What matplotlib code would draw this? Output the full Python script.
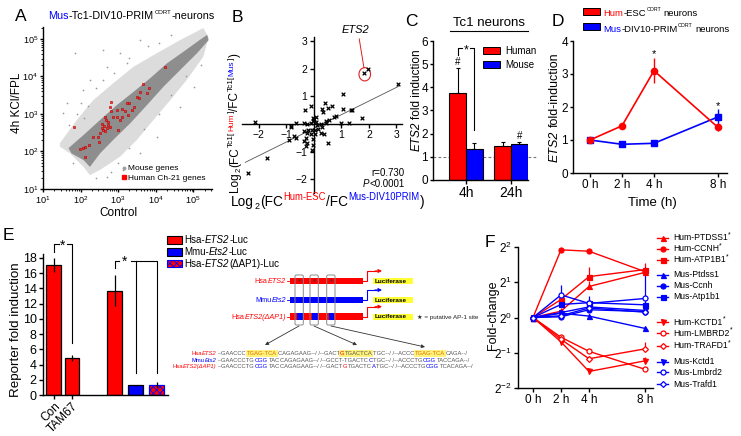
import numpy as np
import matplotlib
matplotlib.use("Agg")
import matplotlib.pyplot as plt
from matplotlib.patches import Rectangle, Ellipse, FancyBboxPatch

plt.rcParams["font.family"] = ["Liberation Sans", "DejaVu Sans"]
plt.rcParams["mathtext.fontset"] = "custom"
plt.rcParams["mathtext.rm"] = "Liberation Sans"
plt.rcParams["mathtext.it"] = "Liberation Sans:italic"
plt.rcParams["axes.linewidth"] = 1.0
plt.rcParams["hatch.linewidth"] = 0.6

RED = "#ff0000"
BLUE = "#0000ff"

# ---------- A: log10 values ----------
a_core_x = [1.68, 2.08, 2.52, 2.97, 3.41, 3.85, 4.30, 4.74, 5.14, 5.37,
            5.41, 5.10, 4.65, 4.21, 3.77, 3.32, 2.87, 2.52, 2.25, 2.08, 1.76]
a_core_y = [2.09, 2.44, 2.84, 3.24, 3.59, 3.95, 4.35, 4.66, 4.95, 5.11,
            4.97, 4.62, 4.17, 3.73, 3.24, 2.75, 2.31, 1.95, 1.59, 1.77, 1.95]
a_halo_x = [1.45, 1.90, 2.34, 2.87, 3.41, 4.03, 4.65, 5.27,
            5.41, 5.27, 4.83, 4.39, 3.94, 3.50, 3.05, 2.52, 2.25, 2.08, 1.72, 1.45]
a_halo_y = [2.22, 2.84, 3.37, 3.82, 4.26, 4.62, 4.97, 5.29,
            5.04, 4.53, 3.91, 3.37, 2.84, 2.31, 1.86, 1.51, 1.37, 1.59, 1.95, 2.13]
a_out_x = [1.85, 2.61, 3.05, 2.25, 1.63, 1.54, 2.07, 2.70, 3.59, 3.23, 3.59, 3.14,
           2.70, 4.03, 4.65, 5.01, 1.81, 2.0, 2.4, 1.9, 2.2, 2.6, 2.9, 3.3, 3.8,
           4.1, 4.4, 1.7, 2.1, 3.3, 3.7, 4.1, 4.4, 3.0, 2.8, 2.4, 4.8, 5.2]
a_out_y = [4.62, 4.71, 4.62, 3.91, 3.29, 3.02, 3.64, 4.26, 4.97, 4.35, 1.95, 1.51,
           1.33, 2.39, 3.19, 3.73, 1.68, 3.3, 3.7, 3.0, 3.2, 3.9, 4.1, 4.5, 4.8,
           4.9, 5.1, 2.7, 2.9, 2.1, 2.6, 3.0, 3.5, 1.7, 1.45, 1.3, 4.0, 4.3]
a_red_x = [4.24, 3.67, 3.83, 3.59, 3.50, 3.23, 3.30, 2.81, 2.79, 3.10, 2.97, 3.19,
           3.37, 2.98, 2.86, 3.10, 2.68, 2.56, 2.74, 2.79, 2.70, 2.59, 3.01, 2.52,
           2.47, 2.34, 2.50, 2.23, 2.12, 1.99, 2.06, 1.83, 2.12, 2.81, 2.65, 3.05,
           3.25, 3.43, 3.56, 3.77, 2.62, 2.72, 2.66, 2.58]
a_red_y = [4.24, 3.80, 3.69, 3.59, 3.45, 3.30, 3.30, 3.33, 3.18, 3.13, 3.11, 3.09,
           3.11, 2.93, 2.93, 2.93, 2.84, 2.73, 2.71, 2.65, 2.62, 2.57, 2.57, 2.48,
           2.39, 2.39, 2.26, 2.17, 2.11, 2.06, 2.08, 2.65, 1.85, 3.07, 2.93, 2.84,
           2.97, 3.18, 3.42, 3.55, 2.68, 2.78, 2.55, 2.62]

# ---------- B ----------
b_x = [1.82, 1.98, 3.05, 1.06, 1.06, 1.34, 1.40, 0.40, 0.67, 0.51, -0.33, -0.11,
       0.29, 0.32, 0.80, 0.74, 0.56, 0.46, 0.02, -0.04, 0.08, 0.43, 0.98, 1.29,
       1.75, -2.13, -0.65, -0.83, -0.36, -0.23, -0.11, 0.25, 0.31, 0.16, -0.07,
       0.05, -0.36, -0.23, -0.11, 0.05, 0.25, 0.37, -0.71, -0.65, -0.89, -0.29,
       -0.36, -0.23, -0.29, -0.04, -0.02, -0.07, 0.53, -1.71, -2.40, -0.83, 0.08,
       -0.04, -0.20, 0.12]
b_y = [1.85, 1.99, 1.45, 1.09, 0.54, 0.52, 0.49, 0.76, 0.66, 0.58, 0.52, 0.64,
       0.55, 0.43, 0.28, 0.25, 0.15, 0.12, 0.17, 0.12, 0.08, 0.05, 0.05, 0.03,
       0.22, 0.08, 0.02, -0.10, 0.02, 0.00, 0.02, 0.00, -0.10, -0.18, -0.21,
       -0.21, -0.26, -0.32, -0.38, -0.35, -0.32, -0.38, -0.42, -0.50, -0.59, -0.50,
       -0.62, -0.68, -0.78, -0.56, -0.75, -0.96, -0.68, -1.23, -1.78, -0.06, 0.25,
       0.21, -0.21, -0.05]
b_fit_x = [-2.48, 3.07]
b_fit_y = [-1.39, 1.36]
ets2_x, ets2_y = 1.85, 1.80

# ---------- C ----------
c_groups = ["4h", "24h"]
c_human = [3.75, 1.45]
c_human_err = [1.1, 0.2]
c_mouse = [1.35, 1.55]
c_mouse_err = [0.25, 0.07]

# ---------- D ----------
d_hours = [0, 2, 4, 8]
d_hum = [1.0, 1.43, 3.10, 1.38]
d_hum_err = [0.03, 0.10, 0.38, 0.12]
d_mus = [1.0, 0.87, 0.90, 1.70]
d_mus_err = [0.03, 0.06, 0.04, 0.23]

# ---------- E ----------
e_pos = [0, 0.86, 2.9, 3.9, 4.9]
e_vals = [17.1, 4.8, 13.7, 1.25, 1.35]
e_err = [0.9, 0.4, 2.0, 0.12, 0.3]
e_ticklabels = ["Con", "TAM67"]

# ---------- F (log2 fold-change) ----------
f_hours = [0, 2, 4, 8]
f_names = ["Hum-PTDSS1", "Hum-CCNH", "Hum-ATP1B1", "Mus-Ptdss1", "Mus-Ccnh", "Mus-Atp1b1",
           "Hum-KCTD1", "Hum-LMBRD2", "Hum-TRAFD1", "Mus-Kctd1", "Mus-Lmbrd2", "Mus-Trafd1"]
f_vals = [[0, 0.18, 0.88, 1.28], [0, 1.92, 1.88, 1.30], [0, 0.51, 1.16, 1.36],
          [0, 0.12, 0.04, -0.31], [0, 0.02, 0.22, 0.17], [0, 0.37, 0.42, 0.36],
          [0, -0.69, -1.53, -1.23], [0, -0.56, -0.96, -1.47], [0, -0.62, -1.17, -0.89],
          [0, 0.14, 0.30, 0.20], [0, 0.64, 0.40, 0.54], [0, 0.05, 0.27, 0.15]]
f_err = [[0, 0.08, 0.15, 0.12], [0, 0.04, 0.04, 0.08], [0, 0.1, 0.28, 0.2],
         [0, 0.05, 0.05, 0.05], [0, 0.05, 0.4, 1.25], [0, 0.05, 0.1, 0.08],
         [0, 0.05, 0.05, 0.1], [0, 0.05, 0.08, 0.05], [0, 0.05, 0.08, 0.2],
         [0, 0.05, 0.05, 0.05], [0, 0.27, 0.1, 0.1], [0, 0.05, 0.05, 0.05]]
f_markers = ["^", "o", "s", "^", "o", "s", "v", "o", "D", "v", "o", "D"]
f_open = [False] * 7 + [True, True, False, True, True]
f_star = [True, True, True, False, False, False, True, True, True, False, False, False]

W, H = 741, 436
fig = plt.figure(figsize=(W / 100, H / 100), dpi=100)
R = fig.canvas.get_renderer()

def box(x0, y0, x1, y1):
    return [x0 / W, 1 - y1 / H, (x1 - x0) / W, (y1 - y0) / H]

# overlay in pixel coordinates (y down) for labels and the diagram
ov = fig.add_axes([0, 0, 1, 1], zorder=10)
ov.set_xlim(0, W)
ov.set_ylim(H, 0)
ov.axis("off")

def rich(x, y, parts, size, rot=0, align="left"):
    made, total = [], 0.0
    for part in parts:
        if isinstance(part, str):
            part = (part, {})
        s, o = part
        total += o.get("pre", 0)
        t = ov.text(0, 0, s, fontsize=size * o.get("scale", 1), color=o.get("color", "black"),
                    style=o.get("style", "normal"), weight=o.get("weight", "normal"),
                    rotation=rot, rotation_mode="anchor", ha="left", va="baseline")
        if "hl" in o:
            t.set_bbox(dict(facecolor=o["hl"], edgecolor="none", pad=0.4))
        ext = t.get_window_extent(R)
        made.append((t, total, o.get("rise", 0) * size * 100 / 72))
        total += (ext.height if rot else ext.width) + 0.4
    start = {"left": 0, "center": -total / 2, "right": -total}[align]
    for t, off, rise in made:
        if rot:
            t.set_position((x - rise, y - start - off))
        else:
            t.set_position((x + start + off, y - rise))

IT = {"style": "italic"}

def style_axes(ax, size):
    ax.spines["top"].set_visible(False)
    ax.spines["right"].set_visible(False)
    ax.tick_params(direction="out", labelsize=size, width=1.0, length=3, pad=1.5)

# ================= A =================
axA = fig.add_axes(box(43, 27, 212, 189))
axA.fill(10 ** np.array(a_halo_x), 10 ** np.array(a_halo_y), color="#dcdcdc", lw=0)
axA.fill(10 ** np.array(a_core_x), 10 ** np.array(a_core_y), color="#8e8e8e", lw=0)
axA.scatter(10 ** np.array(a_out_x), 10 ** np.array(a_out_y), s=1.5, color="#9a9a9a", lw=0)
axA.scatter(10 ** np.array(a_red_x), 10 ** np.array(a_red_y), s=4.5, marker="s",
            facecolor="#ff2a2a", edgecolor="#b00000", lw=0.4, zorder=3)
axA.set_xscale("log")
axA.set_yscale("log")
axA.set_xlim(10, 10 ** 5.5)
axA.set_ylim(10, 10 ** 5.32)
style_axes(axA, 6.6)
axA.tick_params(which="major", length=2.5, pad=1)
axA.tick_params(which="minor", direction="out", length=1.5, width=0.6)
rich(48, 19, [("Mus", {"color": BLUE}), "-Tc1-DIV10-PRIM", ("CORT", {"scale": 0.55, "rise": 0.5}), "-neurons"], 7.8)
ov.text(20, 103, "4h KCl/FPL", rotation=90, rotation_mode="anchor", ha="center", va="baseline", fontsize=8.5)
ov.text(118, 216, "Control", ha="center", va="baseline", fontsize=8.5)
ov.plot([124], [168], "o", ms=1.8, color="#a0a0a0")
ov.plot([124], [177], "s", ms=2.2, color=RED)
ov.text(128, 170, "Mouse genes", fontsize=6, va="baseline")
ov.text(128, 180, "Human Ch-21 genes", fontsize=6, va="baseline")

# ================= B =================
axB = fig.add_axes(box(242, 37, 402, 193))
axB.plot(b_fit_x, b_fit_y, color="#555555", lw=0.6, zorder=1)
axB.scatter(b_x, b_y, marker="x", s=7, color="black", lw=0.9, zorder=3)
axB.add_patch(Ellipse((ets2_x, ets2_y), 0.42, 0.48, fill=False, ec="#e02020", lw=0.8))
axB.plot([ets2_x - 0.03, ets2_x - 0.2], [ets2_y + 0.24, ets2_y + 1.28], color="#e02020", lw=0.7, clip_on=False)
axB.text(ets2_x - 0.33, ets2_y + 1.5, "ETS2", style="italic", fontsize=8, ha="center", va="baseline", clip_on=False)
axB.set_xlim(-2.6, 3.2)
axB.set_ylim(-2.5, 3.15)
axB.spines["left"].set_position(("data", 0))
axB.spines["bottom"].set_position(("data", 0))
style_axes(axB, 7.5)
axB.set_xticks([-2, -1, 1, 2, 3])
axB.set_yticks([-2, -1, 1, 2, 3])
ov.text(405, 176, "r=0.730", ha="right", va="baseline", fontsize=7)
rich(405, 187, [("P", IT), "<0.0001"], 7, align="right")
rich(328, 206, ["Log", ("2", {"scale": 0.65, "rise": -0.22}), "(FC",
                ("Hum-ESC", {"scale": 0.7, "rise": 0.42, "color": RED}), "/FC",
                ("Mus-DIV10PRIM", {"scale": 0.7, "rise": 0.42, "color": BLUE}), ")"], 9.8, align="center")
rich(238, 122, ["Log", ("2", {"scale": 0.65, "rise": -0.22}), "(FC", ("Tc1[", {"scale": 0.7, "rise": 0.42}),
                ("Hum", {"scale": 0.7, "rise": 0.42, "color": RED}), ("]", {"scale": 0.7, "rise": 0.42}), "/FC",
                ("Tc1[", {"scale": 0.7, "rise": 0.42}), ("Mus", {"scale": 0.7, "rise": 0.42, "color": BLUE}),
                ("]", {"scale": 0.7, "rise": 0.42}), ")"], 8.5, rot=90, align="center")

# ================= C =================
axC = fig.add_axes(box(433, 41, 528, 180))
xs = np.arange(len(c_groups))
bw = 0.367
axC.bar(xs - bw / 2, c_human, bw, color=RED, edgecolor="black", lw=0.8,
        yerr=[[0] * 2, c_human_err], capsize=1.5, error_kw=dict(lw=0.8, capthick=0.8))
axC.bar(xs + bw / 2, c_mouse, bw, color=BLUE, edgecolor="black", lw=0.8,
        yerr=[[0] * 2, c_mouse_err], capsize=1.5, error_kw=dict(lw=0.8, capthick=0.8))
axC.plot([-0.733, 1.6], [1, 1], ls=(0, (2.5, 2)), color="#777777", lw=0.8, clip_on=False, zorder=0.5)
axC.set_xlim(-0.733, 1.378)
axC.set_ylim(0, 6)
style_axes(axC, 8.5)
axC.tick_params(axis="y", length=2.5, pad=1)
axC.set_xticks(xs)
axC.set_xticklabels(c_groups, fontsize=10)
axC.set_yticks(range(7))
lx, rx = -bw / 2, bw / 2
axC.plot([lx, lx, lx + 0.1], [5.4, 5.7, 5.7], color="black", lw=0.8)
axC.plot([rx - 0.1, rx, rx], [5.7, 5.7, 2.15], color="black", lw=0.8)
axC.text(0, 5.45, "*", ha="center", va="baseline", fontsize=9)
axC.text(-bw / 2, 4.95, "#", ha="center", va="baseline", fontsize=7)
axC.text(1 + bw / 2, 1.75, "#", ha="center", va="baseline", fontsize=7)
ov.text(489, 26, "Tc1 neurons", ha="center", va="baseline", fontsize=9.5)
ov.plot([450, 528], [31, 31], color="black", lw=0.8)
rich(420, 100, [("ETS2", IT), ("fold induction", {"pre": 2.5})], 8.5, rot=90, align="center")
ov.add_patch(Rectangle((483, 47), 17, 7, fc=RED, ec="black", lw=0.7))
ov.add_patch(Rectangle((483, 61), 17, 7, fc=BLUE, ec="black", lw=0.7))
ov.text(505, 54, "Human", fontsize=7, va="baseline")
ov.text(505, 68, "Mouse", fontsize=7, va="baseline")

# ================= D =================
axD = fig.add_axes(box(573, 41, 727, 173))
axD.errorbar(d_hours, d_mus, yerr=d_mus_err, color=BLUE, marker="s", ms=4.5, lw=1.2, elinewidth=1, capsize=0)
axD.errorbar(d_hours, d_hum, yerr=d_hum_err, color=RED, marker="o", ms=4.5, lw=1.2, elinewidth=1, capsize=0)
axD.text(4, 3.5, "*", ha="center", va="baseline", fontsize=8)
axD.text(8, 1.95, "*", ha="center", va="baseline", fontsize=8)
axD.set_xlim(-1.06, 8.56)
axD.set_ylim(0, 4)
style_axes(axD, 8.5)
axD.tick_params(axis="y", length=2.5, pad=1)
axD.set_xticks(d_hours)
axD.set_xticklabels([f"{h} h" for h in d_hours])
axD.set_yticks(range(5))
ov.add_patch(Rectangle((583, 8), 17, 7, fc=RED, ec="black", lw=0.7))
ov.add_patch(Rectangle((583, 23), 17, 7, fc=BLUE, ec="black", lw=0.7))
rich(603, 16, [("Hum", {"color": RED}), "-ESC", ("CORT", {"scale": 0.55, "rise": 0.5}), ("neurons", {"pre": 2})], 6.8)
rich(603, 32, [("Mus", {"color": BLUE}), "-DIV10-PRIM", ("CORT", {"scale": 0.55, "rise": 0.5}), ("neurons", {"pre": 2})], 6.8)
rich(558, 107, [("ETS2", IT), ("fold-induction", {"pre": 2.5})], 9.0, rot=90, align="center")
ov.text(652, 206, "Time (h)", ha="center", va="baseline", fontsize=9.5)

# ================= E =================
axE = fig.add_axes(box(43, 254, 168, 395))
e_face = [RED, RED, RED, BLUE, RED]
e_edge = ["black", "black", "black", "black", BLUE]
e_hatch = [None, None, None, None, "xxxxx"]
for p, v, er, fc, ec, ht in zip(e_pos, e_vals, e_err, e_face, e_edge, e_hatch):
    axE.bar(p, v, 0.71, color=fc, edgecolor=ec, lw=0.9, hatch=ht,
            yerr=[[er], [er]], capsize=0, error_kw=dict(lw=0.9, ecolor="black"))
axE.set_xlim(-0.52, 5.43)
axE.set_ylim(0, 18.5)
style_axes(axE, 9)
axE.set_yticks(range(0, 19, 2))
axE.set_xticks(e_pos[:2])
axE.set_xticklabels(e_ticklabels, rotation=45, ha="right", rotation_mode="anchor", fontsize=8.5)
axE.tick_params(axis="x", pad=1)
p0, p1, p2, p3, p4 = e_pos
axE.plot([p0, p0, p0 + 0.25], [18.8, 19.8, 19.8], color="black", lw=0.8, clip_on=False)
axE.plot([p1 - 0.25, p1, p1], [19.8, 19.8, 6.8], color="black", lw=0.8, clip_on=False)
axE.text((p0 + p1) / 2, 19.1, "*", ha="center", va="baseline", fontsize=10, clip_on=False)
axE.plot([p2, p2, p2 + 0.2], [16.6, 17.6, 17.6], color="black", lw=0.8)
axE.plot([p2 + 0.75, p4, p4], [17.6, 17.6, 2.9], color="black", lw=0.8)
axE.plot([p3, p3], [17.6, 2.9], color="black", lw=0.8)
axE.text(p2 + 0.45, 16.9, "*", ha="center", va="baseline", fontsize=10)
ov.text(19, 330, "Reporter fold induction", rotation=90, rotation_mode="anchor", ha="center", va="baseline", fontsize=9.6)
ov.add_patch(Rectangle((167, 236), 15, 7.5, fc=RED, ec="black", lw=0.8))
ov.add_patch(Rectangle((167, 248), 15, 7.5, fc=BLUE, ec="black", lw=0.8))
ov.add_patch(Rectangle((167, 259.5), 15, 7.5, fc=RED, ec=BLUE, lw=0.8, hatch="xxxxx"))
rich(184, 243, ["Hsa-", ("ETS2", IT), "-Luc"], 7)
rich(184, 255, ["Mmu-", ("Ets2", IT), "-Luc"], 7)
rich(184, 266.5, ["Hsa-", ("ETS2", IT), "(ΔAP1)-Luc"], 7)

# promoter constructs
rows = [281, 300, 316.7]
bar_cols = [RED, BLUE, RED]
names = [[("Hsa", {"color": RED}), ("ETS2", {"color": RED, "style": "italic"})],
         [("Mmu", {"color": BLUE}), ("Ets2", {"color": BLUE, "style": "italic"})],
         [("Hsa", {"color": RED}), ("ETS2(ΔAP1)", {"color": RED, "style": "italic"})]]
sites = [295, 310, 326.7]
for i, (yy, col) in enumerate(zip(rows, bar_cols)):
    ov.add_patch(Rectangle((290, yy - 3.3), 72.7, 6.6, fc=col, ec="none"))
    ov.plot([287, 290], [yy, yy], color=col, lw=0.6)
    rich(286.5, yy + 1.8, names[i], 5.2, align="right")
    ov.plot([362.7, 367, 367, 376], [yy, yy, yy - 10, yy - 10], color=col, lw=0.8)
    ov.annotate("", xy=(382, yy - 10), xytext=(375, yy - 10),
                arrowprops=dict(arrowstyle="-|>", color=col, lw=0.8, mutation_scale=5, shrinkA=0, shrinkB=0))
    ov.add_patch(Rectangle((372.7, yy - 3.2), 40.6, 6.4, fc="#ffff33", ec="none"))
    ov.text(375, yy + 1.6, "Luciferase", fontsize=4.6, weight="bold", va="baseline")
for sx in sites:
    ov.text(sx + 4.2, 283.5, "*", fontsize=5.5, ha="center", va="baseline", color="#333333")
    ov.add_patch(Rectangle((sx + 2.3, rows[2] - 3.3), 5.4, 6.6, fc=BLUE, ec="none"))
    ov.add_patch(FancyBboxPatch((sx, 275), 8.3, 50, boxstyle="round,pad=0,rounding_size=1.5",
                                fill=False, ec="#8a8a8a", lw=0.7))
ov.text(417, 319, "★ = putative AP-1 site", fontsize=4.5, va="baseline", color="#222222")
for (x0, x1, y1) in [(299, 265, 345), (314, 357, 345), (331, 425, 347)]:
    ov.annotate("", xy=(x1, y1), xytext=(x0, 326),
                arrowprops=dict(arrowstyle="-|>", color="#333333", lw=0.6, mutation_scale=5, shrinkA=0, shrinkB=0))

# aligned sequences
G = {"color": "#555555"}
HL = "#fff27a"
seq_rows = [
    [("--GAACCC", G), ("TGAG-TCA", {"color": "#e07000", "hl": HL}), ("CAGAGAAG--/ /--GACT", G),
     ("G", {"color": RED, "hl": HL}), ("TGACTCA", {"color": "#555555", "hl": HL}), ("TGC--/ /--ACCC", G),
     ("TGAG-TCA", {"color": "#e07000", "hl": HL}), ("CAGA--/", G)],
    [("--GAACCCTG", G), ("CGG", {"color": BLUE}), ("TAC", G), ("CAGAGAAG--/ /--GCCT-TGACTC", G),
     ("C", {"color": BLUE}), ("TGC--/ /--ACCCTG", G), ("CGG", {"color": BLUE}), ("TACCAGA--/", G)],
    [("--GAACCCTG", G), ("CGG", {"color": BLUE}), ("TAC", G), ("CAGAGAAG--/ /--GACT", G),
     ("G", {"color": RED}), ("TGACTC", G), ("A", {"color": BLUE}), ("TGC--/ /--ACCCTG", G),
     ("CGG", {"color": BLUE}), ("TCACAGA--/", G)],
]
seq_y = [355, 361.5, 368]
for i, yy in enumerate(seq_y):
    rich(217, yy, names[i], 4.2, align="right")
    rich(218, yy, seq_rows[i], 4.2)

# ================= F =================
axF = fig.add_axes(box(518, 247, 653, 388))
for v, er, mk, op, name in zip(f_vals, f_err, f_markers, f_open, f_names):
    col = RED if name.startswith("Hum") else BLUE
    yv = 2 ** np.array(v)
    up = 2 ** (np.array(v) + np.array(er)) - yv
    axF.errorbar(f_hours, yv, yerr=[np.zeros(4), up], color=col, marker=mk,
                 ms=3.6 if mk != "D" else 3, mfc="white" if op else col, mew=0.9,
                 lw=1.0, elinewidth=0.9, capsize=0)
axF.set_yscale("log", base=2)
axF.set_ylim(0.25, 4)
axF.set_xlim(-1.07, 8.57)
style_axes(axF, 8.5)
axF.set_yticks([0.25, 0.5, 1, 2, 4])
axF.set_yticklabels(["$2^{-2}$", "$2^{-1}$", "$2^{0}$", "$2^{1}$", "$2^{2}$"])
axF.yaxis.set_minor_locator(matplotlib.ticker.NullLocator())
axF.set_xticks(f_hours)
axF.set_xticklabels([f"{h} h" for h in f_hours])
ov.text(496, 315, "Fold-change", rotation=90, rotation_mode="anchor", ha="center", va="baseline", fontsize=9)
leg_y = [237.7, 249, 260, 275, 286, 297, 322.3, 333.3, 345.7, 361.7, 372.3, 384.3]
for yy, mk, op, name, st in zip(leg_y, f_markers, f_open, f_names, f_star):
    col = RED if name.startswith("Hum") else BLUE
    ov.plot([657, 668], [yy, yy], color=col, lw=1.0)
    ov.plot([662.5], [yy], marker=mk, ms=3.6 if mk != "D" else 3, color=col, mfc="white" if op else col, mew=0.9)
    parts = [name] + ([("*", {"scale": 0.8, "rise": 0.45})] if st else [])
    rich(673, yy + 2.3, parts, 6.2)

# panel letters
for letter, x, y in [("A", 15, 21), ("B", 232, 22), ("C", 405, 26), ("D", 552, 26), ("E", 3, 240), ("F", 485, 247)]:
    ov.text(x, y, letter, fontsize=12.5, va="baseline")

fig.savefig("out.png", dpi=100)
